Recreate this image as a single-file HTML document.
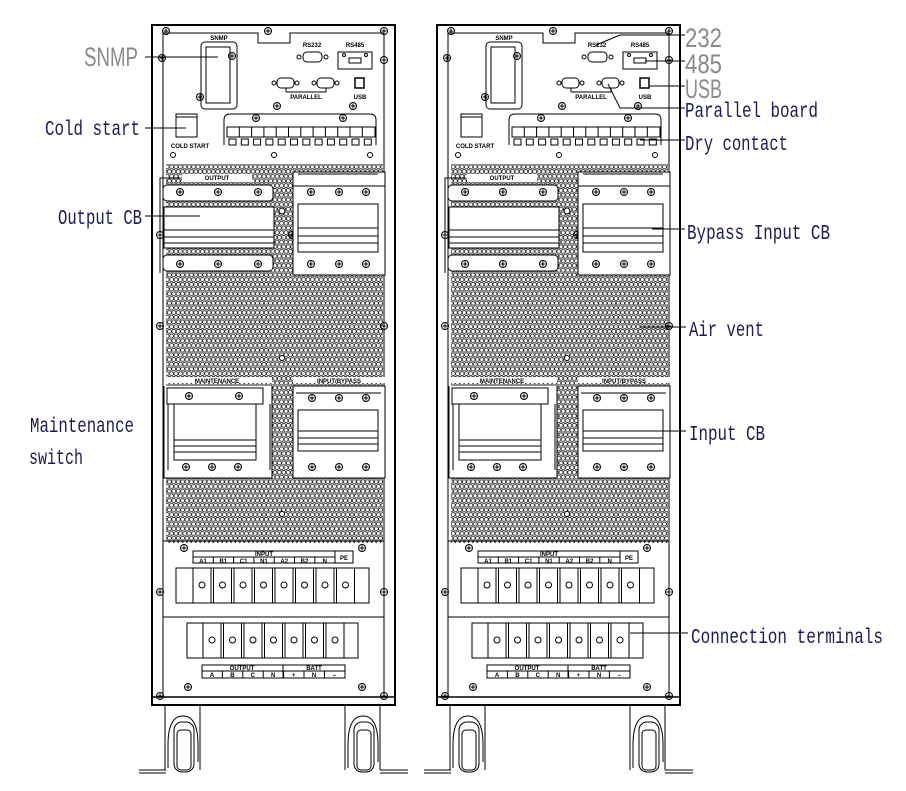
<!DOCTYPE html>
<html><head><meta charset="utf-8"><style>
html,body{margin:0;padding:0;background:#fff;width:906px;height:791px;overflow:hidden}
svg{display:block}
.l{font-family:"Liberation Mono",monospace;font-size:21px;fill:#1c1c50}
.g{font-family:"Liberation Sans",sans-serif;font-size:27px;fill:#8a8a8a}
.s{font-family:"Liberation Sans",sans-serif;font-size:6px;font-weight:bold;fill:#000}
</style></head><body>
<svg id="sv" width="906" height="791" viewBox="0 0 906 791" xmlns="http://www.w3.org/2000/svg">
<defs>
<pattern id="mesh" width="4.4" height="9.4" patternUnits="userSpaceOnUse">
<g fill="none" stroke="#000" stroke-width="0.7">
<circle cx="2.2" cy="2.35" r="2"/>
<circle cx="0" cy="7.05" r="2"/><circle cx="4.4" cy="7.05" r="2"/>
</g>
</pattern>
</defs>
<g id="cabs" fill="none" stroke="#000" stroke-width="1"></g>
<g stroke="#000" stroke-width="1" fill="none">
<line x1="145" y1="57" x2="218" y2="57"/>
<line x1="145" y1="128" x2="186" y2="128"/>
<line x1="145" y1="216" x2="200" y2="216"/>
<line x1="596" y1="45" x2="620" y2="35"/><line x1="620" y1="35" x2="685" y2="35"/>
<line x1="645" y1="61" x2="685" y2="61"/>
<line x1="650" y1="86" x2="685" y2="86"/>
<line x1="608" y1="84" x2="620" y2="108"/><line x1="620" y1="108" x2="685" y2="108"/>
<line x1="640" y1="140" x2="685" y2="140"/>
<line x1="652" y1="229" x2="685" y2="229"/>
<line x1="640" y1="327" x2="686" y2="327"/>
<line x1="640" y1="431" x2="686" y2="431"/>
<line x1="630" y1="633" x2="688" y2="633"/>
</g>
<text class="g" x="84" y="66" font-size="24" textLength="54" lengthAdjust="spacingAndGlyphs">SNMP</text>
<text class="l" x="45" y="135" textLength="95" lengthAdjust="spacingAndGlyphs">Cold start</text>
<text class="l" x="58" y="224" textLength="84" lengthAdjust="spacingAndGlyphs">Output CB</text>
<text class="l" x="30" y="432" textLength="104" lengthAdjust="spacingAndGlyphs">Maintenance</text>
<text class="l" x="29" y="464" textLength="54" lengthAdjust="spacingAndGlyphs">switch</text>
<text class="g" x="685" y="47" textLength="37" lengthAdjust="spacingAndGlyphs">232</text>
<text class="g" x="685" y="73" textLength="37" lengthAdjust="spacingAndGlyphs">485</text>
<text class="g" x="685" y="98" textLength="37" lengthAdjust="spacingAndGlyphs">USB</text>
<text class="l" x="685" y="117" textLength="133" lengthAdjust="spacingAndGlyphs">Parallel board</text>
<text class="l" x="685" y="150" textLength="103" lengthAdjust="spacingAndGlyphs">Dry contact</text>
<text class="l" x="687" y="239" textLength="143" lengthAdjust="spacingAndGlyphs">Bypass Input CB</text>
<text class="l" x="689" y="336" textLength="75" lengthAdjust="spacingAndGlyphs">Air vent</text>
<text class="l" x="689" y="440" textLength="76" lengthAdjust="spacingAndGlyphs">Input CB</text>
<text class="l" x="691" y="643" textLength="192" lengthAdjust="spacingAndGlyphs">Connection terminals</text>
</svg>
<script>
function cab(d){
 var s='';
 function R(x,y,w,h,extra){s+='<rect x="'+(x+d)+'" y="'+y+'" width="'+w+'" height="'+h+'" '+(extra||'')+'/>';}
 function L(x1,y1,x2,y2,w){s+='<line x1="'+(x1+d)+'" y1="'+y1+'" x2="'+(x2+d)+'" y2="'+y2+'"'+(w?' stroke-width="'+w+'"':'')+'/>';}
 function C(x,y,r,f){s+='<circle cx="'+(x+d)+'" cy="'+y+'" r="'+r+'"'+(f?' fill="'+f+'"':'')+'/>';}
 function S(x,y){C(x,y,3.5);L(x-2.5,y,x+2.5,y);L(x,y-2.5,x,y+2.5);}
 function T(x,y,t,a){s+='<text class="s" stroke="none" x="'+(x+d)+'" y="'+y+'" text-anchor="'+(a||'middle')+'">'+t+'</text>';}
 R(152,25,243,680,'stroke-width="2"');
 L(163,33,163,697);L(384,33,384,697);L(152,697,395,697,1.5);
 s+='<path d="M'+(163+d)+' 33 H'+(258+d)+' V43 H'+(290+d)+' V33 H'+(384+d)+'"/>';
 R(166,163,217,380,'fill="url(#mesh)" stroke="none"');
 R(166,160,217,4,'fill="#fff" stroke="none"');
 S(166,31);S(268,31);S(384,31);S(162,58);S(384,60);S(232,56);S(200,97);S(277,106);S(353,106);
 R(201,42,36,67,'rx="4"');R(206,47,24,56);T(219,40,'SNMP');
 T(312,47,'RS232');R(303,52,19,10,'rx="4"');C(299,57,2);C(326,57,2);
 T(355,47,'RS485');R(338,52,34,17);R(349,58,12,5);C(344,55,1.5);C(366,55,1.5);
 R(277,78,17,10,'rx="4"');R(317,78,17,10,'rx="4"');C(274,83,2);C(297,83,2);C(314,83,2);C(337,83,2);
 L(286,88,286,92);L(326,88,326,92);L(286,92,326,92);T(306,99,'PARALLEL');
 R(355,78,9,10,'stroke-width="1.5"');T(360,99,'USB');
 R(176,114,21,23);L(176,117,197,117);T(190,148,'COLD START');
 s+='<path d="M'+(224+d)+' 145 V120 Q'+(224+d)+' 114 '+(230+d)+' 114 H'+(370+d)+' Q'+(376+d)+' 114 '+(376+d)+' 120 V145"/>';
 R(227,127,148,10);
 for(var i=0;i<12;i++){L(227+i*12.3,127,227+i*12.3,137);R(229+i*12.3,139,7,6);}
 S(256,118);S(343,118);
 C(173,155,2.5);C(274,155,2.5);C(370,155,2.5);
 s+='<path d="M'+(160+d)+' 273 V178 H'+(180+d)+'"/>';R(182,174,70,8,'fill="#fff" stroke="none"');T(217,180,'OUTPUT');
 R(163,185,110,16,'rx="4" fill="#fff"');S(180,192);S(218,192);S(258,192);
 R(164,207,110,41,'fill="#fff"');L(164,230,274,230);L(164,237,274,237);L(164,243,274,243);
 R(163,255,110,16,'rx="4" fill="#fff"');S(180,264);S(218,264);S(258,264);
 C(282,211,3,'#fff');S(160,235);S(292,235);
 R(293,172,92,103,'fill="#fff"');L(298,174,378,174);R(298,204,80,48);L(298,228,378,228);L(298,236,378,236);L(298,243,378,243);
 L(293,186,385,186);S(311,192);S(339,192);S(366,192);S(311,264);S(339,264);S(366,264);
 S(160,326);S(384,326);C(282,358,2.5,'#fff');
 R(164,377,108,6,'fill="#fff" stroke="none"');T(217,383,'MAINTENANCE');
 R(293,377,92,6,'fill="#fff" stroke="none"');T(339,383,'INPUT/BYPASS');
 s+='<path d="M'+(164+d)+' 386 V478 H'+(272+d)+' V386" fill="#fff"/>';
 R(167,388,96,16,'fill="#fff"');R(174,404,82,56,'fill="#fff"');L(174,440,256,440);L(174,446,256,446);L(174,452,256,452);
 L(168,404,168,470);L(270,404,270,470);S(189,396);S(239,396);S(186,467);S(212,467);S(238,467);
 R(293,386,92,92,'fill="#fff"');L(296,393,381,393);R(298,410,80,41);L(298,431,378,431);L(298,438,378,438);L(298,444,378,444);
 S(312,398);S(339,398);S(366,398);S(312,467);S(339,467);S(366,467);C(282,514,2.5,'#fff');
 L(163,541,384,541);S(184,548);S(362,548);
 R(193,551,142,12);L(193,557,335,557);for(var i=1;i<7;i++)L(193+i*20.3,557,193+i*20.3,563);R(335,551,18,12);T(264,556,'INPUT');T(344,560,'PE');
 var ln=['A1','B1','C1','N1','A2','B2','N'];for(var i=0;i<7;i++)T(203+i*20.3,563,ln[i]);
 R(176,568,193,35);for(var i=0;i<8;i++){R(193+i*20.5,568,18,35);C(202+i*20.5,585,3);}
 S(160,592);S(384,592);
 L(163,617,384,617);
 R(187,623,171,35);for(var i=0;i<7;i++){R(203+i*20.5,623,18,35);C(212+i*20.5,640,3);}
 R(202,665,143,13);L(202,671,345,671);L(283,665,283,678);for(var i=1;i<7;i++)L(202+i*20.4,671,202+i*20.4,678);
 T(242,670,'OUTPUT');T(314,670,'BATT');var on=['A','B','C','N','+','N','\u2013'];for(var i=0;i<7;i++)T(212+i*20.4,677,on[i]);
 S(188,687);S(362,687);S(160,696);S(384,696);
 [165,345].forEach(function(x){
  L(x,705,x,770);L(x+35,705,x+35,770);
  s+='<path d="M'+(x+3+d)+' 768 V745 Q'+(x+3+d)+' 716 '+(x+18+d)+' 716 Q'+(x+33+d)+' 716 '+(x+33+d)+' 745 V762"/>';
  R(x+9,722,20,50,'rx="8"');R(x+12,730,14,40,'rx="4"');
 });
 L(139,773,166,773);L(380,773,408,773);
 L(139,770,166,770);L(380,770,408,770);
 return s;
}
var g=document.getElementById('cabs');g.innerHTML=cab(0)+cab(285);
</script>
</body></html>
